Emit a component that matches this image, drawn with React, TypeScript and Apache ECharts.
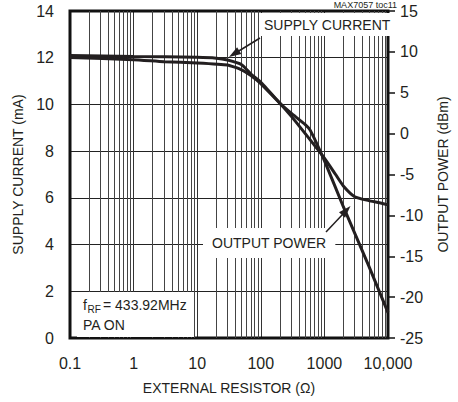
import React, { useEffect, useRef } from "react";
import * as echarts from "echarts";

const xTickValues = [0.1, 1, 10, 100, 1000, 10000];
const xTickLabels = ["0.1", "1", "10", "100", "1000", "10,000"];
const decadeStarts = [0.1, 1, 10, 100, 1000];
const minorMultipliers = [2, 3, 4, 5, 6, 7, 8, 9];

const supplyR = [0.1, 1, 10, 20, 30, 50, 70, 100, 200, 300, 500, 1000, 1500, 2000, 3000, 5000, 7000, 10000];
const supplyMA = [12.1, 12.05, 12.02, 11.98, 11.9, 11.7, 11.3, 10.95, 10.05, 9.5, 8.75, 7.7, 7.0, 6.5, 6.05, 5.88, 5.8, 5.7];

const powerR = [0.1, 1, 3, 10, 30, 50, 70, 100, 200, 300, 500, 600, 1000, 2000, 5000, 10000];
const powerDBm = [9.3, 9.05, 8.8, 8.65, 8.4, 7.8, 7.1, 6.1, 3.7, 2.5, 1.1, 0.4, -3.3, -9.0, -16.2, -21.9];

const FONT = "'Liberation Sans', Arial, sans-serif";
const INK = "#231f20";

export default function App() {
  const ref = useRef<HTMLDivElement>(null);
  useEffect(() => {
    if (!ref.current) return;
    const chart = echarts.init(ref.current, undefined, { renderer: "svg" });
    const minorLines: number[] = [];
    decadeStarts.forEach((d) => minorMultipliers.forEach((m) => minorLines.push(+(d * m).toPrecision(3))));

    const option: any = {
      animation: false,
      backgroundColor: "#fff",
      textStyle: { fontFamily: FONT, color: INK },
      grid: {
        left: 70,
        right: 60,
        top: 11,
        bottom: 64,
        show: true,
        borderColor: "#111",
        borderWidth: 3,
        backgroundColor: "transparent",
        z: 4,
      },
      xAxis: {
        type: "log",
        logBase: 10,
        min: 0.1,
        max: 10000,
        name: "EXTERNAL RESISTOR (\u03A9)",
        nameLocation: "middle",
        nameGap: 43,
        nameTextStyle: { fontFamily: FONT, fontSize: 14, color: INK },
        axisLine: { show: false },
        axisTick: { show: false },
        axisLabel: {
          fontFamily: FONT,
          fontSize: 16,
          color: INK,
          margin: 17,
          formatter: (v: number) => {
            const i = xTickValues.findIndex((t) => Math.abs(Math.log10(t) - Math.log10(v)) < 1e-6);
            return i >= 0 ? xTickLabels[i] : "";
          },
        },
        splitLine: { show: true, lineStyle: { color: "#333", width: 1 } },
        minorTick: { show: false },
      },
      yAxis: [
        {
          type: "value",
          min: 0,
          max: 14,
          interval: 2,
          position: "left",
          name: "SUPPLY CURRENT (mA)",
          nameLocation: "middle",
          nameRotate: 90,
          nameGap: 41,
          nameTextStyle: { fontFamily: FONT, fontSize: 14, color: INK },
          axisLine: { show: false },
          axisTick: { show: false },
          axisLabel: { fontFamily: FONT, fontSize: 16, color: INK, margin: 16 },
          splitLine: { show: true, lineStyle: { color: "#222", width: 1.2 } },
        },
        {
          type: "value",
          min: -25,
          max: 15,
          interval: 5,
          position: "right",
          name: "OUTPUT POWER (dBm)",
          nameLocation: "middle",
          nameRotate: 90,
          nameGap: 48,
          nameTextStyle: { fontFamily: FONT, fontSize: 14, color: INK },
          axisLine: { show: false },
          axisTick: { show: true, length: 7, inside: false, lineStyle: { color: "#111", width: 1.5 } },
          axisLabel: { fontFamily: FONT, fontSize: 16, color: INK, margin: 12 },
          splitLine: { show: false },
        },
      ],
      series: [
        {
          type: "line",
          data: [],
          z: 1,
          silent: true,
          markLine: {
            silent: true,
            symbol: ["none", "none"],
            label: { show: false },
            lineStyle: { color: "#444", width: 1, type: "solid" },
            data: minorLines.map((v) => ({ xAxis: v })),
          },
        },
        {
          name: "SUPPLY CURRENT",
          type: "line",
          yAxisIndex: 0,
          z: 5,
          smooth: 0.2,
          showSymbol: false,
          lineStyle: { color: INK, width: 3 },
          data: supplyR.map((r, i) => [r, supplyMA[i]]),
        },
        {
          name: "OUTPUT POWER",
          type: "line",
          yAxisIndex: 1,
          z: 5,
          smooth: 0.15,
          showSymbol: false,
          lineStyle: { color: INK, width: 3 },
          data: powerR.map((r, i) => [r, powerDBm[i]]),
        },
      ],
      graphic: [
        {
          type: "text",
          z: 100,
          x: 397,
          y: 0,
          style: { text: "MAX7057 toc11", font: `9px ${FONT}`, fill: INK, align: "right", verticalAlign: "top" },
        },
        {
          type: "text",
          z: 100,
          x: 260,
          y: 13,
          style: {
            text: "SUPPLY CURRENT",
            font: `14px ${FONT}`,
            fill: INK,
            backgroundColor: "#fff",
            padding: [4, 4, 4, 4],
            lineHeight: 15,
          },
        },
        {
          type: "line",
          z: 100,
          shape: { x1: 260, y1: 38, x2: 238, y2: 51.5 },
          style: { stroke: INK, lineWidth: 1.5 },
        },
        {
          type: "polygon",
          z: 100,
          shape: { points: [[229, 57], [241.3, 54.1], [237.1, 47.3]] },
          style: { fill: INK },
        },
        {
          type: "text",
          z: 100,
          x: 203,
          y: 228,
          style: {
            text: "OUTPUT POWER",
            font: `14px ${FONT}`,
            fill: INK,
            backgroundColor: "#fff",
            padding: [7, 9, 7, 9],
            lineHeight: 16,
          },
        },
        {
          type: "line",
          z: 100,
          shape: { x1: 326, y1: 232, x2: 343, y2: 214 },
          style: { stroke: INK, lineWidth: 1.5 },
        },
        {
          type: "polygon",
          z: 100,
          shape: { points: [[350.5, 206], [345, 217.8], [339, 212.2]] },
          style: { fill: INK },
        },
        {
          type: "rect",
          z: 99,
          shape: { x: 77, y: 292, width: 117, height: 45 },
          style: { fill: "#fff" },
        },
        {
          type: "text",
          z: 100,
          x: 83,
          y: 305,
          style: { text: "f", font: `14px ${FONT}`, fill: INK, verticalAlign: "middle" },
        },
        {
          type: "text",
          z: 100,
          x: 87.5,
          y: 309,
          style: { text: "RF", font: `10px ${FONT}`, fill: INK, verticalAlign: "middle" },
        },
        {
          type: "text",
          z: 100,
          x: 103,
          y: 305,
          style: { text: "= 433.92MHz", font: `14px ${FONT}`, fill: INK, verticalAlign: "middle" },
        },
        {
          type: "text",
          z: 100,
          x: 83,
          y: 325,
          style: { text: "PA ON", font: `14px ${FONT}`, fill: INK, verticalAlign: "middle" },
        },
      ],
    };
    chart.setOption(option);
    return () => chart.dispose();
  }, []);
  return (
    <div
      ref={ref}
      style={{ position: "absolute", left: 0, top: 0, width: 458, height: 402 }}
    />
  );
}
